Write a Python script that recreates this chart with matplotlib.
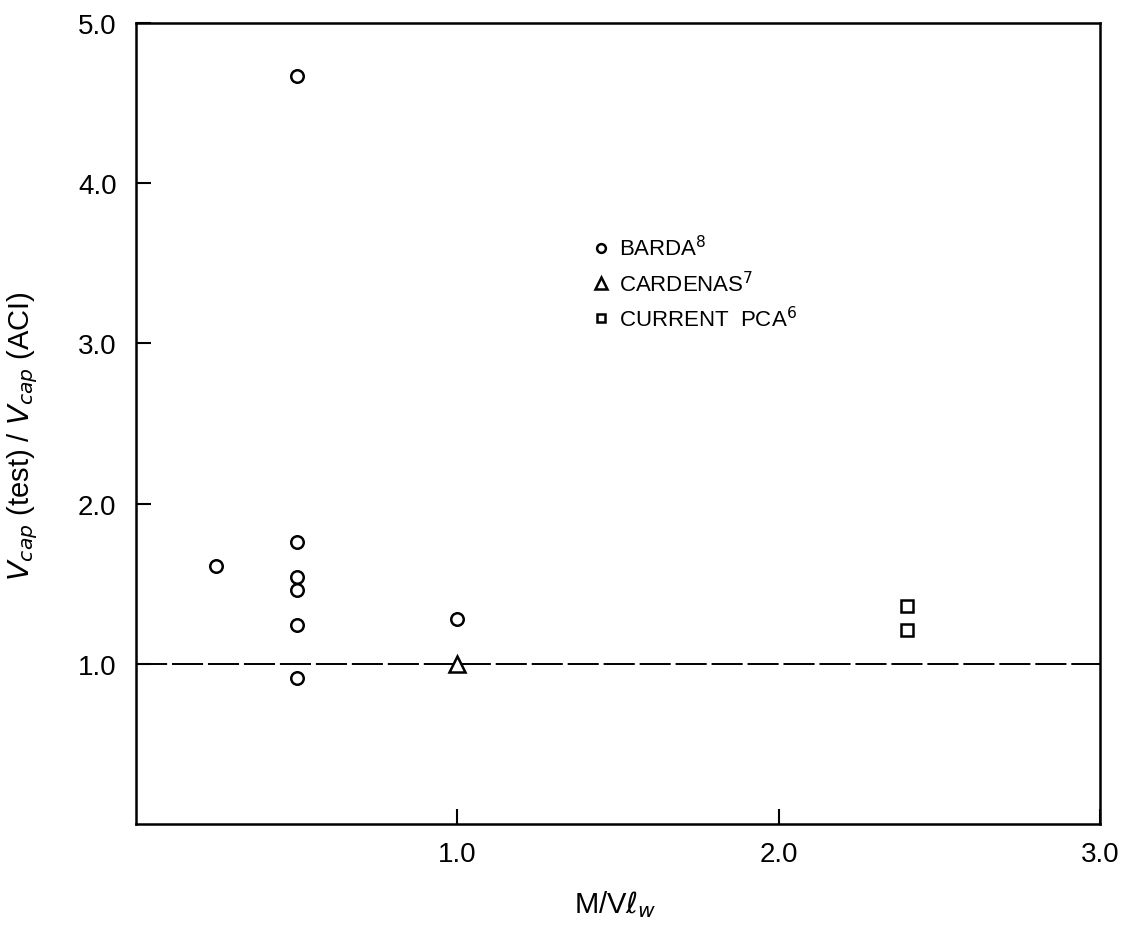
import matplotlib.pyplot as plt

# values
barda_x = [0.25, 0.5, 0.5, 0.5, 0.5, 0.5, 0.5, 1.0]
barda_y = [1.61, 4.67, 1.76, 1.54, 1.46, 1.24, 0.91, 1.28]
cardenas_x = [1.0]
cardenas_y = [1.0]
pca_x = [2.4, 2.4]
pca_y = [1.36, 1.21]

x_ticks = [1, 2, 3]
x_tick_labels = ['1.0', '2.0', '3.0']
y_ticks = [1, 2, 3, 4, 5]
y_tick_labels = ['1.0', '2.0', '3.0', '4.0', '5.0']

plt.rcParams['font.family'] = ['Liberation Sans', 'DejaVu Sans']
plt.rcParams['mathtext.fontset'] = 'dejavusans'

fig = plt.figure(figsize=(11.36, 9.29), dpi=100)
ax = fig.add_axes([0.1197, 0.112, 0.8486, 0.862])

ax.axhline(1.0, color='black', lw=1.4, linestyle=(0, (16, 2.5)))

ax.plot(barda_x, barda_y, linestyle='none', marker='o', ms=9, mfc='white',
        mec='black', mew=1.8, label='BARDA$^8$')
ax.plot(cardenas_x, cardenas_y, linestyle='none', marker='^', ms=12, mfc='white',
        mec='black', mew=1.8, label='CARDENAS$^7$')
ax.plot(pca_x, pca_y, linestyle='none', marker='s', ms=8.5, mfc='white',
        mec='black', mew=1.8, label='CURRENT  PCA$^6$')

ax.set_xlim(0, 3)
ax.set_ylim(0, 5)
ax.set_xticks(x_ticks)
ax.set_xticklabels(x_tick_labels)
ax.set_yticks(y_ticks)
ax.set_yticklabels(y_tick_labels)
ax.tick_params(direction='in', length=11, width=1.5, labelsize=20, color='black')
ax.tick_params(axis='y', pad=14)
ax.tick_params(axis='x', pad=12)
for s in ax.spines.values():
    s.set_linewidth(1.8)
    s.set_color('black')

ax.set_xlabel(r'M/V$\ell_w$', fontsize=21)
ax.xaxis.set_label_coords(0.497, -0.08)
ax.set_ylabel(r'$V_{cap}$ (test) / $V_{cap}$ (ACI)', fontsize=21)
ax.yaxis.set_label_coords(-0.1, 0.486)

leg = ax.legend(loc='upper left', bbox_to_anchor=(0.455, 0.76), frameon=False,
                fontsize=16, handlelength=0.6, handletextpad=0.5,
                labelspacing=0.45, markerscale=0.7)

plt.savefig('out.png', dpi=100)
